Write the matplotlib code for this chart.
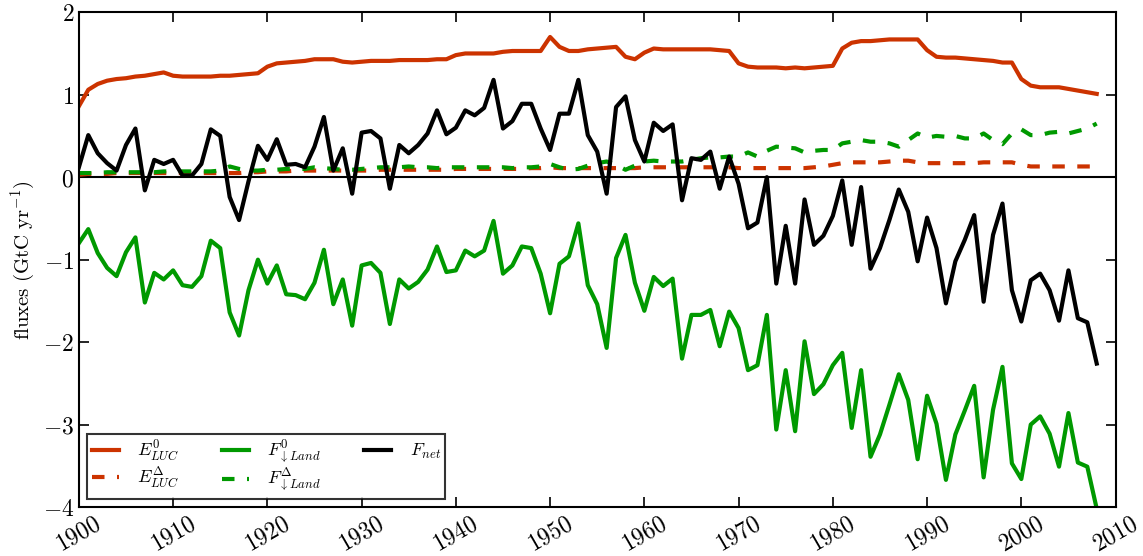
import numpy as np
import matplotlib.pyplot as plt
from matplotlib.ticker import FuncFormatter, MultipleLocator

plt.rcParams['mathtext.fontset'] = 'cm'
plt.rcParams['font.family'] = 'serif'
plt.rcParams['font.serif'] = ['DejaVu Serif']

# ---------------- data (GtC/yr), 1900-2008 ----------------
years = np.arange(1900, 2009)

e_luc0 = [
    0.86, 1.06, 1.13, 1.17, 1.19, 1.20, 1.22, 1.23, 1.25, 1.27,
    1.23, 1.22, 1.22, 1.22, 1.22, 1.23, 1.23, 1.24, 1.25, 1.26,
    1.34, 1.38, 1.39, 1.40, 1.41, 1.43, 1.43, 1.43, 1.40, 1.39,
    1.40, 1.41, 1.41, 1.41, 1.42, 1.42, 1.42, 1.42, 1.43, 1.43,
    1.48, 1.50, 1.50, 1.50, 1.50, 1.52, 1.53, 1.53, 1.53, 1.53,
    1.70, 1.58, 1.53, 1.53, 1.55, 1.56, 1.57, 1.58, 1.46, 1.43,
    1.51, 1.56, 1.55, 1.55, 1.55, 1.55, 1.55, 1.55, 1.54, 1.53,
    1.38, 1.34, 1.33, 1.33, 1.33, 1.32, 1.33, 1.32, 1.33, 1.34,
    1.35, 1.56, 1.63, 1.65, 1.65, 1.66, 1.67, 1.67, 1.67, 1.67,
    1.54, 1.46, 1.45, 1.45, 1.44, 1.43, 1.42, 1.41, 1.39, 1.39,
    1.19, 1.11, 1.09, 1.09, 1.09, 1.07, 1.05, 1.03, 1.01,
]

e_luc_d = [
    0.03, 0.04, 0.04, 0.04, 0.05, 0.05, 0.05, 0.05, 0.05, 0.05,
    0.05, 0.05, 0.05, 0.05, 0.05, 0.05, 0.05, 0.05, 0.06, 0.06,
    0.07, 0.07, 0.07, 0.08, 0.08, 0.08, 0.08, 0.08, 0.08, 0.08,
    0.08, 0.08, 0.09, 0.09, 0.09, 0.09, 0.09, 0.09, 0.09, 0.09,
    0.10, 0.10, 0.10, 0.10, 0.10, 0.10, 0.10, 0.10, 0.11, 0.11,
    0.12, 0.11, 0.11, 0.11, 0.11, 0.11, 0.11, 0.11, 0.11, 0.11,
    0.12, 0.12, 0.12, 0.12, 0.12, 0.12, 0.12, 0.12, 0.12, 0.12,
    0.11, 0.11, 0.11, 0.11, 0.11, 0.11, 0.11, 0.11, 0.12, 0.13,
    0.15, 0.17, 0.18, 0.18, 0.18, 0.18, 0.19, 0.20, 0.20, 0.18,
    0.17, 0.17, 0.17, 0.17, 0.17, 0.17, 0.18, 0.18, 0.18, 0.18,
    0.15, 0.13, 0.13, 0.13, 0.13, 0.13, 0.13, 0.13, 0.13,
]

f_land0 = [
    -0.80, -0.63, -0.92, -1.10, -1.20, -0.91, -0.73, -1.52, -1.16, -1.24,
    -1.13, -1.31, -1.33, -1.20, -0.77, -0.86, -1.64, -1.92, -1.37, -1.00,
    -1.29, -1.07, -1.42, -1.43, -1.48, -1.28, -0.88, -1.54, -1.24, -1.80,
    -1.07, -1.04, -1.16, -1.78, -1.24, -1.35, -1.27, -1.12, -0.84, -1.15,
    -1.13, -0.89, -0.96, -0.89, -0.53, -1.17, -1.07, -0.84, -0.86, -1.17,
    -1.65, -1.05, -0.96, -0.56, -1.31, -1.54, -2.07, -0.98, -0.70, -1.28,
    -1.62, -1.21, -1.32, -1.23, -2.20, -1.67, -1.67, -1.61, -2.05, -1.63,
    -1.83, -2.34, -2.28, -1.67, -3.06, -2.34, -3.08, -1.99, -2.63, -2.51,
    -2.28, -2.13, -3.04, -2.34, -3.39, -3.12, -2.76, -2.39, -2.70, -3.42,
    -2.65, -2.99, -3.67, -3.12, -2.83, -2.53, -3.64, -2.82, -2.30, -3.47,
    -3.66, -3.00, -2.90, -3.11, -3.51, -2.86, -3.46, -3.51, -4.02,
]

f_land_d = [
    0.05, 0.05, 0.05, 0.06, 0.06, 0.06, 0.06, 0.06, 0.06, 0.07,
    0.07, 0.07, 0.07, 0.07, 0.07, 0.08, 0.13, 0.10, 0.08, 0.08,
    0.09, 0.09, 0.10, 0.10, 0.10, 0.12, 0.11, 0.10, 0.09, 0.09,
    0.10, 0.11, 0.12, 0.12, 0.12, 0.13, 0.12, 0.12, 0.11, 0.12,
    0.12, 0.12, 0.12, 0.12, 0.12, 0.12, 0.11, 0.12, 0.12, 0.13,
    0.16, 0.12, 0.09, 0.10, 0.14, 0.17, 0.19, 0.15, 0.09, 0.14,
    0.19, 0.20, 0.19, 0.19, 0.19, 0.21, 0.23, 0.24, 0.24, 0.25,
    0.25, 0.30, 0.25, 0.32, 0.37, 0.36, 0.35, 0.30, 0.32, 0.33,
    0.33, 0.41, 0.43, 0.45, 0.43, 0.43, 0.41, 0.37, 0.45, 0.53,
    0.48, 0.50, 0.49, 0.50, 0.47, 0.47, 0.53, 0.45, 0.40, 0.53,
    0.58, 0.51, 0.51, 0.54, 0.55, 0.53, 0.56, 0.59, 0.65,
]

f_net = [
    0.12, 0.51, 0.29, 0.17, 0.08, 0.39, 0.59, -0.16, 0.21, 0.16,
    0.21, 0.02, 0.02, 0.16, 0.58, 0.50, -0.24, -0.52, -0.05, 0.38,
    0.21, 0.46, 0.15, 0.16, 0.12, 0.37, 0.73, 0.08, 0.35, -0.20,
    0.54, 0.56, 0.47, -0.14, 0.39, 0.29, 0.39, 0.53, 0.81, 0.52,
    0.60, 0.81, 0.75, 0.84, 1.18, 0.59, 0.68, 0.89, 0.89, 0.59,
    0.33, 0.77, 0.77, 1.18, 0.51, 0.31, -0.20, 0.85, 0.98, 0.45,
    0.19, 0.66, 0.56, 0.64, -0.28, 0.23, 0.21, 0.31, -0.14, 0.25,
    -0.08, -0.62, -0.55, 0.00, -1.29, -0.59, -1.29, -0.27, -0.82, -0.71,
    -0.47, -0.04, -0.82, -0.12, -1.11, -0.86, -0.52, -0.15, -0.42, -1.02,
    -0.49, -0.86, -1.53, -1.02, -0.76, -0.46, -1.51, -0.70, -0.32, -1.37,
    -1.75, -1.25, -1.17, -1.37, -1.74, -1.13, -1.71, -1.76, -2.26,
]

c_luc = '#cc3300'
c_land = '#009900'

fig = plt.figure(figsize=(11.43, 5.56), dpi=100)
ax = fig.add_axes([0.069, 0.088, 0.907, 0.890])

ax.axhline(0, color='black', lw=1.5, zorder=1)

lw = 3
ax.plot(years, e_luc0, color=c_luc, lw=lw, label=r'$E^0_{LUC}$')
ax.plot(years, e_luc_d, color=c_luc, lw=lw, dashes=(3, 3), label=r'$E^{\Delta}_{LUC}$')
ax.plot(years, f_land0, color=c_land, lw=lw, label=r'$F^0_{\downarrow Land}$')
ax.plot(years, f_land_d, color=c_land, lw=lw, dashes=(3, 3), label=r'$F^{\Delta}_{\downarrow Land}$')
ax.plot(years, f_net, color='black', lw=lw, label=r'$F_{net}$')

ax.set_xlim(1900, 2010)
ax.set_ylim(-4, 2)
ax.xaxis.set_major_locator(MultipleLocator(10))
ax.yaxis.set_major_locator(MultipleLocator(1))
ax.xaxis.set_major_formatter(FuncFormatter(lambda v, p: r'$%d$' % v))
ax.yaxis.set_major_formatter(FuncFormatter(lambda v, p: r'$%d$' % v))
ax.tick_params(direction='in', length=7, width=1.2, top=True, right=True, labelsize=17)
for lab in ax.get_xticklabels():
    lab.set_rotation(30)
for sp in ax.spines.values():
    sp.set_linewidth(1.5)

ax.set_ylabel(r'$\mathrm{fluxes\ (GtC\ yr^{-1})}$', fontsize=15)

leg = ax.legend(loc='lower left', ncol=3, fontsize=13, frameon=True, fancybox=False,
                handlelength=1.5, handletextpad=1.0, columnspacing=2.4,
                borderaxespad=0.45, labelspacing=0.1, borderpad=0.25)
leg.get_frame().set_edgecolor('black')
leg.get_frame().set_linewidth(1.5)

fig.savefig('out.png', dpi=100)
